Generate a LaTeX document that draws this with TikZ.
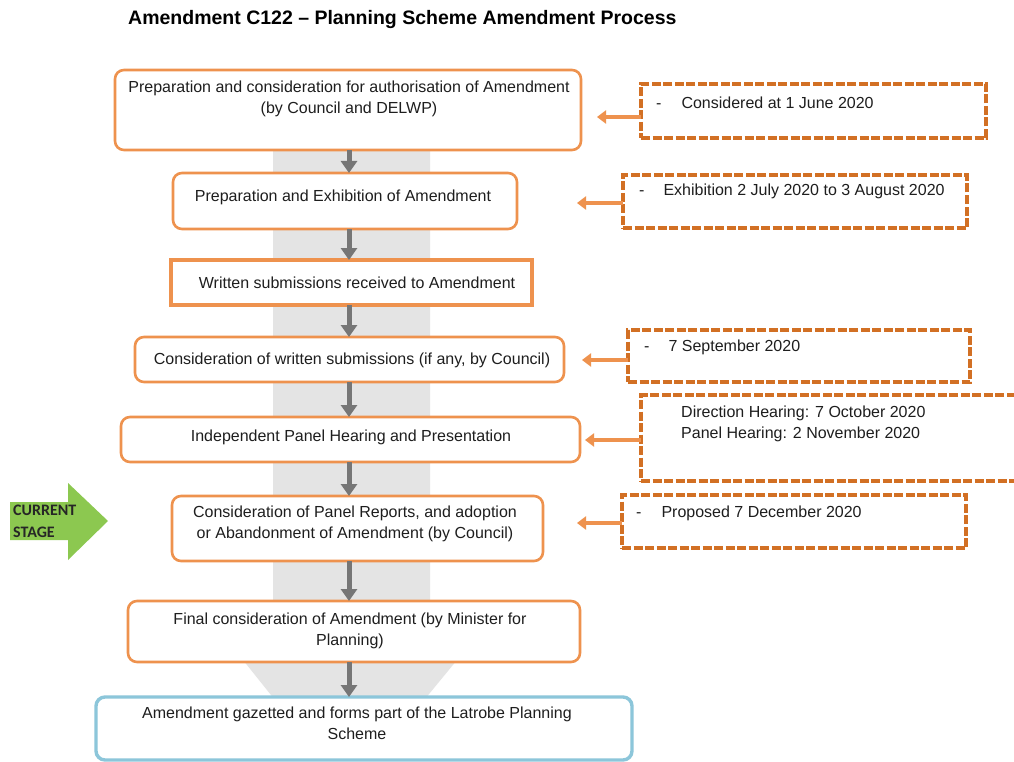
\documentclass[tikz,border=0pt]{standalone}
\usepackage{fontspec}
\setmainfont{Liberation Sans}
\newfontfamily\calib{Carlito}
\usetikzlibrary{arrows.meta}
\definecolor{bord}{RGB}{238,146,78}
\definecolor{dbord}{RGB}{210,112,36}
\definecolor{bblue}{RGB}{140,198,218}
\definecolor{gbg}{RGB}{228,228,228}
\definecolor{garr}{RGB}{118,118,118}
\definecolor{grn}{RGB}{140,200,80}
\definecolor{txt}{RGB}{30,30,30}
\tikzset{
  obox/.style={draw=bord, line width=2.6pt, rounded corners=9pt, fill=white, inner sep=0pt, outer sep=0pt},
  sbox/.style={draw=bord, line width=3.4pt, fill=white, inner sep=0pt, outer sep=0pt},
  bbox/.style={draw=bblue, line width=3.4pt, rounded corners=9pt, fill=white, inner sep=0pt, outer sep=0pt},
  dbox/.style={draw=dbord, line width=3.2pt, dash pattern=on 9pt off 2.5pt, fill=white, inner sep=0pt, outer sep=0pt},
  lbl/.style={font=\fontsize{16}{21}\selectfont, text=txt, align=center, inner sep=0pt},
  rlbl/.style={font=\fontsize{16}{21}\selectfont, text=txt, align=left, inner sep=0pt, anchor=west},
  garrow/.style={draw=garr, line width=5pt, -{Triangle[width=16pt,length=12pt]}},
  oarrow/.style={draw=bord, line width=4pt, -{Triangle[width=13pt,length=9pt]}},
}
\begin{document}
\begin{tikzpicture}[x=1pt,y=-1pt]
\useasboundingbox (0,0) rectangle (1014,762);
\fill[white] (0,0) rectangle (1014,762);
% title
\node[anchor=west, font=\bfseries\fontsize{19.5}{22}\selectfont, inner sep=0pt] (title) at (128,20) {Amendment C122 -- Planning Scheme Amendment Process};
% grey background arrow
\fill[gbg] (273,140) -- (430,140) -- (430,660) -- (457,660) -- (420,705) -- (279,705) -- (243,660) -- (273,660) -- cycle;
% main boxes
\node[obox, minimum width=466pt, minimum height=80pt] (b1) at (348,110) {};
\node[obox, minimum width=344pt, minimum height=56pt] (b2) at (345,201) {};
\node[sbox, minimum width=361pt, minimum height=45pt] (b3) at (351.5,282.5) {};
\node[obox, minimum width=429pt, minimum height=45pt] (b4) at (349.5,359.5) {};
\node[obox, minimum width=459pt, minimum height=45pt] (b5) at (350.5,439.5) {};
\node[obox, minimum width=371pt, minimum height=65pt] (b6) at (357.5,528.5) {};
\node[obox, minimum width=452pt, minimum height=61pt] (b7) at (354,631.5) {};
\node[bbox, minimum width=536pt, minimum height=63pt] (b8) at (364,728.5) {};
% texts
\node[lbl] (t1) at (349,98.5) {Preparation and consideration for authorisation of Amendment\\(by Council and DELWP)};
\node[lbl] (t2) at (343,197) {Preparation and Exhibition of Amendment};
\node[lbl] (t3) at (357,283) {Written submissions received to Amendment};
\node[lbl] (t4) at (352,360) {Consideration of written submissions (if any, by Council)};
\node[lbl] (t5) at (351,437) {Independent Panel Hearing and Presentation};
\node[lbl] (t6) at (355,523.5) {Consideration of Panel Reports, and adoption\\or Abandonment of Amendment (by Council)};
\node[lbl] (t7) at (350,630.5) {Final consideration of Amendment (by Minister for\\Planning)};
\node[lbl] (t8) at (357,723.5) {Amendment gazetted and forms part of the Latrobe Planning\\Scheme};
% grey arrows
\coordinate (g) at (349,0);
\draw[garrow] (b1.south -| g) -- (b2.north -| g);
\draw[garrow] (b2.south -| g) -- (b3.north -| g);
\draw[garrow] (b3.south -| g) -- (b4.north -| g);
\draw[garrow] (b4.south -| g) -- (b5.north -| g);
\draw[garrow] (b5.south -| g) -- (b6.north -| g);
\draw[garrow] (b6.south -| g) -- (b7.north -| g);
\draw[garrow] (b7.south -| g) -- (b8.north -| g);
% dashed boxes
\node[dbox, minimum width=345pt, minimum height=54pt] (d1) at (813.5,111) {};
\node[dbox, minimum width=344pt, minimum height=53pt] (d2) at (795,201.5) {};
\node[dbox, minimum width=342pt, minimum height=52pt] (d3) at (799,356) {};
\node[dbox, minimum width=380pt, minimum height=86pt] (d4) at (831,438) {};
\node[dbox, minimum width=344pt, minimum height=53pt] (d5) at (794,521.5) {};
\node[rlbl] (s1) at (656,103) {-\hspace{20pt}Considered at 1 June 2020};
\node[rlbl] (s2) at (639,191) {-\hspace{19pt}Exhibition 2 July 2020 to 3 August 2020};
\node[rlbl] (s3) at (644,347) {-\hspace{19pt}7 September 2020};
\node[rlbl] (s4) at (681,423.5) {Direction Hearing: 7 October 2020\\Panel Hearing: 2 November 2020};
\node[rlbl] (s5) at (636,513) {-\hspace{20pt}Proposed 7 December 2020};
% orange arrows
\coordinate (a1) at (597,117);
\coordinate (a2) at (577,203);
\coordinate (a3) at (582,360);
\coordinate (a4) at (585,440);
\coordinate (a5) at (577,523);
\draw[oarrow] (d1.west |- a1) -- (a1);
\draw[oarrow] (d2.west |- a2) -- (a2);
\draw[oarrow] (d3.west |- a3) -- (a3);
\draw[oarrow] (d4.west |- a4) -- (a4);
\draw[oarrow] (d5.west |- a5) -- (a5);
% current stage arrow
\fill[grn] (10,502) -- (68,502) -- (68,483) -- (108,521) -- (68,560) -- (68,540) -- (10,540) -- cycle;
\node[anchor=west, font=\calib\bfseries\fontsize{16}{22}\selectfont, text=black!85, align=left, inner sep=0pt] (cs) at (13,521) {CURRENT\\STAGE};
\end{tikzpicture}
\end{document}
